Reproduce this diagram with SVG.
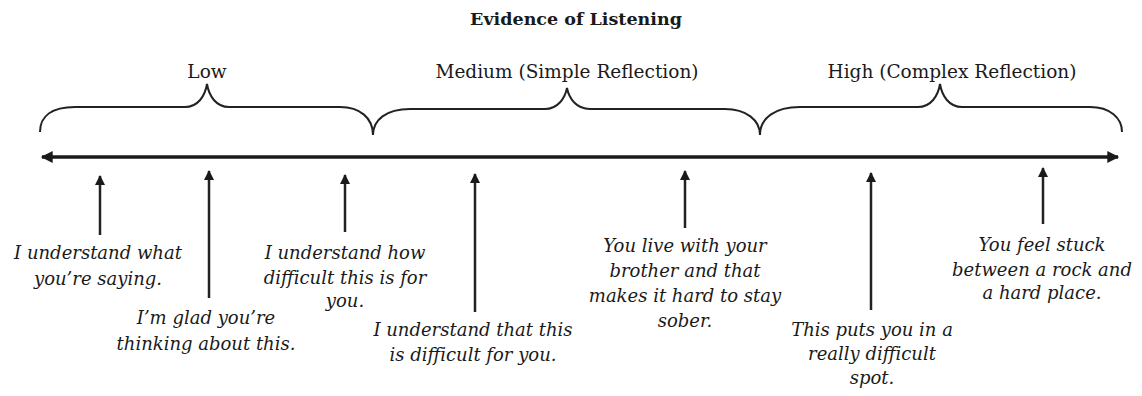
<svg xmlns="http://www.w3.org/2000/svg" width="1142" height="396" viewBox="0 0 1142 396">
<defs>
<marker id="ah" viewBox="0 0 10 10" refX="9" refY="5" markerWidth="4" markerHeight="4" markerUnits="strokeWidth" orient="auto">
<path d="M0,0 L10,5 L0,10 Z" fill="#1a1a1a"/>
</marker>
<marker id="ahm" viewBox="0 0 10 10" refX="9" refY="5" markerWidth="4" markerHeight="3.4" markerUnits="strokeWidth" orient="auto-start-reverse">
<path d="M0,0 L10,5 L0,10 Z" fill="#1a1a1a"/>
</marker>
<style>
.title{font-family:"DejaVu Serif","Liberation Serif",serif;font-weight:bold;font-size:17.5px;fill:#1a1a1a;text-anchor:middle}
.lvl{font-family:"DejaVu Serif","Liberation Serif",serif;font-size:18.5px;fill:#1a1a1a;text-anchor:middle}
.q{font-family:"DejaVu Serif","Liberation Serif",serif;font-style:italic;font-size:18px;fill:#1a1a1a;text-anchor:middle}
.brace{fill:none;stroke:#222;stroke-width:2}
.up{stroke:#222;stroke-width:2.5;fill:none;marker-end:url(#ah)}
.axis{stroke:#1a1a1a;stroke-width:3.5;fill:none;marker-end:url(#ahm);marker-start:url(#ahm)}
</style>
</defs>
<rect width="1142" height="396" fill="#fff"/>
<g id="title"><text class="title" x="576" y="25">Evidence of Listening</text></g>
<g id="low"><text class="lvl" x="207" y="78">Low</text>
<path class="brace" d="M40,132 C40,116 52,107 75,107 L185,107 C198,107 205,96 207,84 C209,96 216,107 229,107 L340,107 C360,107 373,118 373,135"/></g>
<g id="medium"><text class="lvl" x="567" y="78">Medium (Simple Reflection)</text>
<path class="brace" d="M373,135 C373,120 386,109 410,109 L545,109 C558,109 565,98 567,88 C569,98 576,109 590,109 L725,109 C746,109 760,120 760,135"/></g>
<g id="high"><text class="lvl" x="952" y="78">High (Complex Reflection)</text>
<path class="brace" d="M760,135 C760,118 775,107 800,107 L918,107 C931,107 938,96 940,84 C942,96 949,107 962,107 L1090,107 C1110,107 1122,118 1122,132"/></g>
<g id="connectors">
<path class="axis" d="M42,157 L1118,157"/>
<path class="up" d="M100,235 L100,176"/>
<path class="up" d="M209,298 L209,171"/>
<path class="up" d="M345,232 L345,175"/>
<path class="up" d="M475,312 L475,174"/>
<path class="up" d="M685,228 L685,171"/>
<path class="up" d="M871,310 L871,173"/>
<path class="up" d="M1043,224 L1043,168"/>
</g>
<g id="q1"><text class="q" x="98" y="259">I understand what</text><text class="q" x="98" y="285">you’re saying.</text></g>
<g id="q2"><text class="q" x="206" y="324">I’m glad you’re</text><text class="q" x="206" y="350">thinking about this.</text></g>
<g id="q3"><text class="q" x="345" y="259">I understand how</text><text class="q" x="345" y="284">difficult this is for</text><text class="q" x="345" y="307">you.</text></g>
<g id="q4"><text class="q" x="473" y="336">I understand that this</text><text class="q" x="473" y="361">is difficult for you.</text></g>
<g id="q5"><text class="q" x="685" y="252">You live with your</text><text class="q" x="685" y="277">brother and that</text><text class="q" x="685" y="302">makes it hard to stay</text><text class="q" x="685" y="327">sober.</text></g>
<g id="q6"><text class="q" x="872" y="336">This puts you in a</text><text class="q" x="872" y="360">really difficult</text><text class="q" x="872" y="384">spot.</text></g>
<g id="q7"><text class="q" x="1042" y="251">You feel stuck</text><text class="q" x="1042" y="276">between a rock and</text><text class="q" x="1042" y="299">a hard place.</text></g>
</svg>
